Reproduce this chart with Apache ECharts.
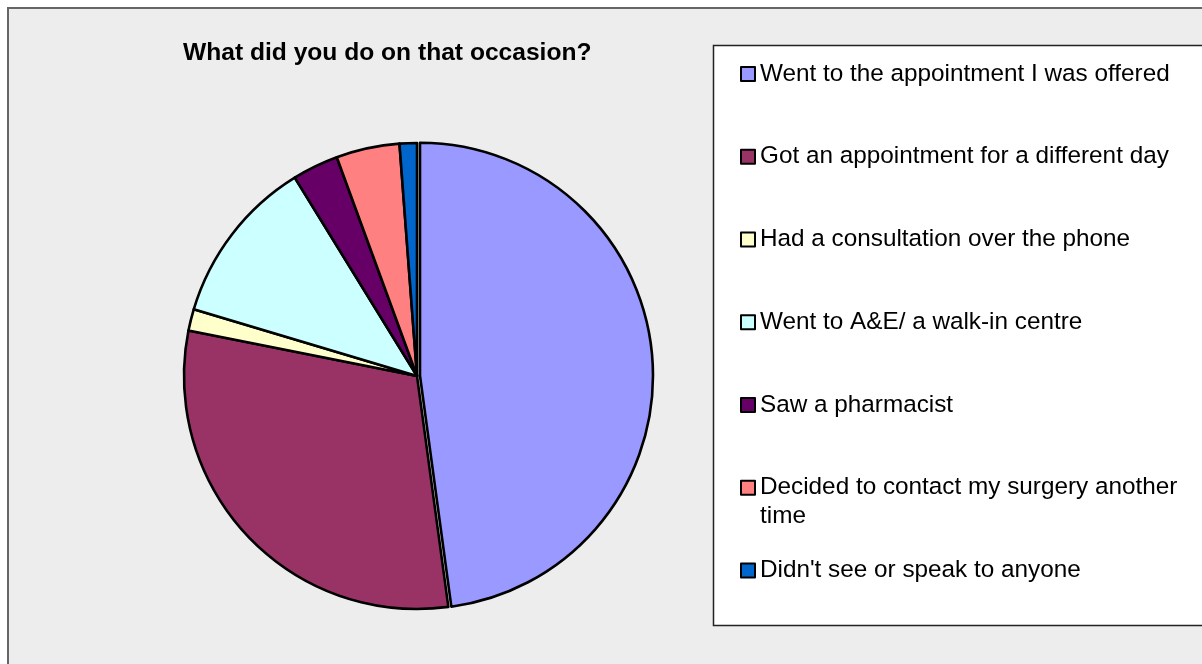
<!DOCTYPE html>
<html>
<head>
<meta charset="utf-8">
<title>What did you do on that occasion?</title>
<script src="https://cdn.jsdelivr.net/npm/echarts@6/dist/echarts.min.js"></script>
<style>
  html, body { margin: 0; padding: 0; background: #fff; }
  #myChart { width: 1202px; height: 664px; }
</style>
</head>
<body>
<div id="myChart"></div>
<script>
// categories and values (percent of respondents)
const categories = [
  'Went to the appointment I was offered',
  'Got an appointment for a different day',
  'Had a consultation over the phone',
  'Went to A&E/ a walk-in centre',
  'Saw a pharmacist',
  'Decided to contact my surgery another time',
  "Didn't see or speak to anyone"
]
const values = [47.9, 30.3, 1.5, 11.6, 3.2, 4.4, 1.2]
const colors = ['#9999FF', '#993366', '#FFFFCC', '#CCFFFF', '#660066', '#FF8080', '#0066CC']

const font = '"Liberation Sans", Arial, sans-serif'

// one legend per entry so the rows keep an even spacing
let legends = categories.map(function (name, i) {
  let centerY = 74 + 82.75 * i
  let wrap = name === 'Decided to contact my surgery another time'
  return {
    orient: 'vertical',
    left: 740,
    top: wrap ? centerY - 43.5 : centerY - 14.5,
    padding: 0,
    itemWidth: 14,
    itemHeight: 14,
    icon: 'rect',
    selectedMode: false,
    data: [name],
    formatter: function (n) {
      // empty first line keeps the icon next to the first printed line
      return wrap ? ' \nDecided to contact my surgery another\ntime' : n
    },
    textStyle: {
      fontFamily: font,
      fontSize: 24.3,
      color: '#000',
      lineHeight: 29
    }
  }
})

let myChart = echarts.init(document.getElementById('myChart'))
myChart.setOption({
  animation: false,
  color: colors,
  graphic: [
    {
      type: 'rect',
      z: -10,
      shape: { x: 8, y: 8, width: 1300, height: 700 },
      style: { fill: '#ededed', stroke: '#666', lineWidth: 2 }
    },
    {
      type: 'rect',
      z: -9,
      shape: { x: 713.5, y: 45.5, width: 600, height: 580 },
      style: { fill: '#fff', stroke: '#222', lineWidth: 1.5 }
    }
  ],
  title: {
    text: 'What did you do on that occasion?',
    left: 183,
    top: 41,
    padding: 0,
    textStyle: {
      fontFamily: font,
      fontSize: 24.6,
      fontWeight: 'bold',
      color: '#000'
    }
  },
  legend: legends,
  series: [{
    type: 'pie',
    center: [417, 376],
    radius: 233,
    startAngle: 90,
    clockwise: true,
    selectedMode: 'single',
    selectedOffset: 3,
    avoidLabelOverlap: false,
    label: { show: false },
    labelLine: { show: false },
    emphasis: { scale: false },
    itemStyle: { borderColor: '#000', borderWidth: 2.6 },
    data: categories.map(function (name, i) {
      return { name: name, value: values[i], selected: i === 0 }
    })
  }]
})
</script>
</body>
</html>
